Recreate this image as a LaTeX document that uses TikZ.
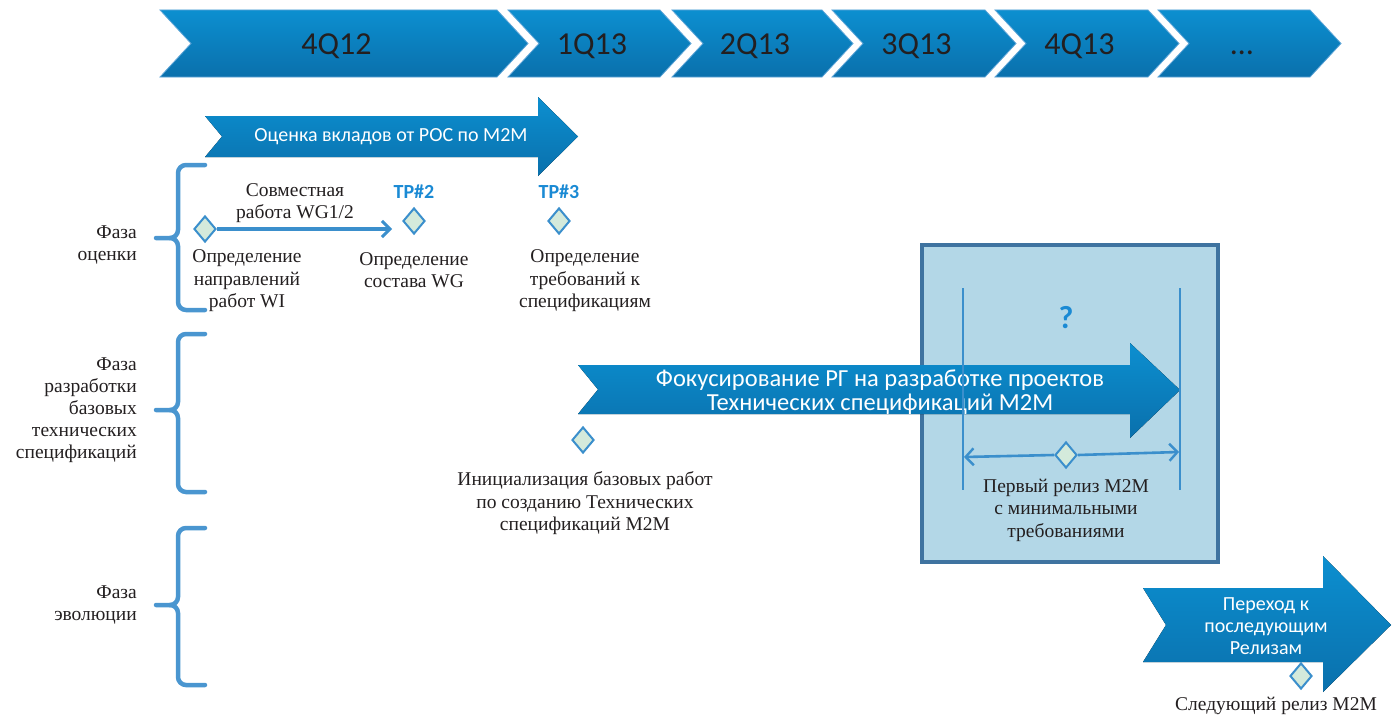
\documentclass[tikz,border=0pt]{standalone}
\usepackage{fontspec}
\setmainfont{Liberation Serif}
\newfontfamily\sansf{Carlito}
\usetikzlibrary{arrows.meta,shapes.geometric}
\definecolor{chtop}{RGB}{12,143,208}
\definecolor{chbot}{RGB}{10,112,172}
\definecolor{chedge}{RGB}{95,165,215}
\definecolor{dblue}{RGB}{59,143,204}
\definecolor{dgreen}{RGB}{212,234,219}
\definecolor{brc}{RGB}{74,150,208}
\definecolor{boxfill}{RGB}{179,215,231}
\definecolor{boxline}{RGB}{63,115,160}
\definecolor{tpc}{RGB}{26,138,212}
\definecolor{dark}{RGB}{35,31,32}
\tikzset{
  chev/.style={top color=chtop,bottom color=chbot,draw=chedge,line width=0.8},
  qtext/.style={font=\sansf\fontsize{32}{34}\selectfont,text=dark,inner sep=0,anchor=base},
  wtext/.style={font=\sansf\fontsize{20}{22}\selectfont,text=white,align=center,inner sep=0},
  btext/.style={font=\sansf\fontsize{24.5}{24}\selectfont,text=white,align=center,inner sep=0},
  stext/.style={font=\fontsize{19.5}{22.5}\selectfont,text=dark,align=center,inner sep=0},
  phtext/.style={font=\fontsize{19.5}{22}\selectfont,text=dark,align=right,inner sep=0,anchor=east},
  ms/.style={diamond,draw=dblue,fill=dgreen,line width=2,minimum width=22,minimum height=26,inner sep=0,aspect=0.85},
  brace/.style={draw=brc,line width=4.5,line cap=round},
  tp/.style={font=\sansf\bfseries\fontsize{20}{22}\selectfont,text=tpc,inner sep=0},
  conn/.style={draw=dblue,line width=3.5,-{Straight Barb[length=8,width=16,line width=3]}},
  dconn/.style={draw=dblue,line width=2.6,-{Straight Barb[length=8,width=17,line width=2.4]}},
}
\begin{document}
\begin{tikzpicture}[x=1pt,y=-1pt]
\useasboundingbox (0,0) rectangle (1394,717);
% timeline chevrons
\foreach \l/\r/\n [count=\i] in {160/497/4Q12,508/660/1Q13,672/822/2Q13,832/985/3Q13,995/1148/4Q13,1158/1310/…}{
  \path[chev] (\l,10) -- (\r,10) -- ({\r+31},43.5) -- (\r,77) -- (\l,77) -- ({\l+31},43.5) -- cycle;
  \node[qtext] (q\i) at ({(\l+\r)/2+8},55) {\n};
}
% evaluation arrow
\fill[chev,draw=none] (205,116) -- (538,116) -- (538,97) -- (578,136.5) -- (538,176) -- (538,157) -- (205,157) -- (222,136.5) -- cycle;
\node[wtext] (ocenka) at (391,136.5) {Оценка вкладов от РОС по М2М};
% braces
\draw[brace] (205,165) -- (186,165) to[out=180,in=90] (178,173) -- (178,230) to[out=270,in=0] (170,238) -- (156,238);
\draw[brace] (170,238) to[out=0,in=90] (178,246) -- (178,302) to[out=270,in=180] (186,310) -- (205,310);
\draw[brace] (205,334) -- (186,334) to[out=180,in=90] (178,342) -- (178,402) to[out=270,in=0] (170,410) -- (156,410);
\draw[brace] (170,410) to[out=0,in=90] (178,418) -- (178,484) to[out=270,in=180] (186,492) -- (205,492);
\draw[brace] (205,528) -- (186,528) to[out=180,in=90] (178,536) -- (178,597) to[out=270,in=0] (170,605) -- (156,605);
\draw[brace] (170,605) to[out=0,in=90] (178,613) -- (178,677) to[out=270,in=180] (186,685) -- (205,685);
% phase labels
\node[phtext] (ph1) at (137,245) {Фаза\\оценки};
\node[phtext] (ph2) at (137,410) {Фаза\\разработки\\базовых\\технических\\спецификаций};
\node[phtext] (ph3) at (137,605) {Фаза\\эволюции};
% evaluation milestones
\node[ms] (d1) at (205,229) {};
\node[ms] (d2) at (414,221) {};
\node[ms] (d3) at (559,221) {};
\coordinate (c1) at (392,229);
\draw[conn] (d1.east) -- (c1);
\node[stext] (sov) at (295,203) {Совместная\\работа WG1/2};
\node[tp] (tp2) at (414,192) {TP\#2};
\node[tp] (tp3) at (559,192) {TP\#3};
\node[stext] (l1) at (247,281) {Определение\\направлений\\работ WI};
\node[stext] (l2) at (414,270) {Определение\\состава WG};
\node[stext] (l3) at (585,281) {Определение\\требований к\\спецификациям};
% box
\draw[draw=boxline,line width=4,fill=boxfill] (922,245) rectangle (1218,562);
% focus arrow
\fill[chev,draw=none] (578,365) -- (1130,365) -- (1130,343) -- (1180,390) -- (1130,438) -- (1130,414) -- (578,414) -- (598,389.5) -- cycle;
\node[btext] (focus) at (880,392) {Фокусирование РГ на разработке проектов\\Технических спецификаций М2М};
% box inner
\coordinate (vl1) at (963,288); \coordinate (vl1b) at (963,490);
\coordinate (vl2) at (1180,288); \coordinate (vl2b) at (1180,490);
\draw[draw=dblue,line width=1.5] (vl1) -- (vl1b);
\draw[draw=dblue,line width=1.5] (vl2) -- (vl2b);
\node[font=\sansf\bfseries\fontsize{32}{34}\selectfont,text=tpc,inner sep=0] (q) at (1066,318) {?};
\node[ms] (d5) at (1066,455) {};
\coordinate (a1) at (964,457);
\coordinate (a2) at (1179,452);
\draw[dconn] (d5.west) -- (a1);
\draw[dconn] (d5.east) -- (a2);
\node[stext] (rel1) at (1066,510) {Первый релиз М2М\\с минимальными\\требованиями};
% init milestone
\node[ms] (d4) at (583,440) {};
\node[stext] (init) at (585,503.5) {Инициализация базовых работ\\по созданию Технических\\спецификаций М2М};
% next release arrow
\fill[chev,draw=none] (1143,588) -- (1323,588) -- (1323,556) -- (1391,625) -- (1323,692) -- (1323,662) -- (1143,662) -- (1166,625) -- cycle;
\node[wtext] (next) at (1266,626) {Переход к\\последующим\\Релизам};
\node[ms] (d6) at (1301,676) {};
\node[stext] (rel2) at (1276,706) {Следующий релиз М2М};
\end{tikzpicture}
\end{document}
